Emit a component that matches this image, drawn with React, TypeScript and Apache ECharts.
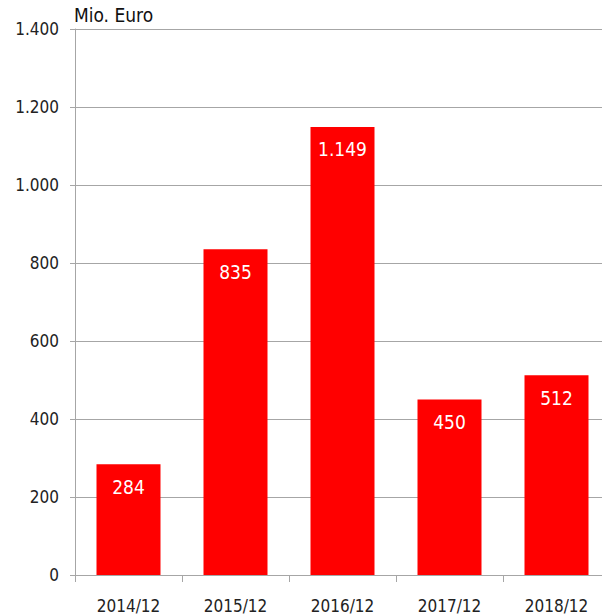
import React, { useEffect, useRef } from "react";
import * as echarts from "echarts";

const categories = ["2014/12", "2015/12", "2016/12", "2017/12", "2018/12"];
const values = [284, 835, 1149, 450, 512];
const unitLabel = "Mio. Euro";

const fmt = (v: number) => {
  const s = String(Math.round(v));
  return s.replace(/\B(?=(\d{3})+(?!\d))/g, ".");
};

const FONT = "'DejaVu Sans Condensed', 'Liberation Sans Narrow', sans-serif";

export default function App() {
  const ref = useRef<HTMLDivElement>(null);
  useEffect(() => {
    if (!ref.current) return;
    const chart = echarts.init(ref.current, undefined, { renderer: "svg" });
    chart.setOption({
      animation: false,
      backgroundColor: "#ffffff",
      grid: {
        left: 75,
        width: 535,
        top: 29,
        bottom: 40,
        containLabel: false,
        outerBoundsMode: "none",
      },
      xAxis: {
        type: "category",
        data: categories,
        axisLine: { lineStyle: { color: "#a6a6a6", width: 1 } },
        axisTick: { show: true, length: 7, lineStyle: { color: "#a6a6a6" } },
        axisLabel: { color: "#222", fontFamily: FONT, fontSize: 17, margin: 22 },
      },
      yAxis: {
        type: "value",
        min: 0,
        max: 1400,
        interval: 200,
        axisLine: { show: true, lineStyle: { color: "#a6a6a6", width: 1 } },
        axisTick: { show: true, length: 5, lineStyle: { color: "#a6a6a6" } },
        splitLine: { lineStyle: { color: "#a6a6a6", width: 1 } },
        axisLabel: { color: "#222", fontFamily: FONT, fontSize: 17, margin: 16, formatter: (v: number) => fmt(v) },
      },
      graphic: [
        {
          type: "text",
          left: 74,
          top: 5,
          style: { text: unitLabel, fontFamily: FONT, fontSize: 19, fill: "#111" },
        },
      ],
      series: [
        {
          type: "bar",
          data: values,
          barWidth: 64,
          itemStyle: { color: "#ff0000" },
          label: {
            show: true,
            position: "insideTop",
            distance: 13,
            color: "#ffffff",
            fontFamily: FONT,
            fontSize: 19,
            formatter: (p: any) => fmt(p.value),
          },
        },
      ],
    });
    return () => chart.dispose();
  }, []);
  return (
    <div
      ref={ref}
      style={{ position: "fixed", left: 0, top: 0, width: 602, height: 615 }}
    />
  );
}
